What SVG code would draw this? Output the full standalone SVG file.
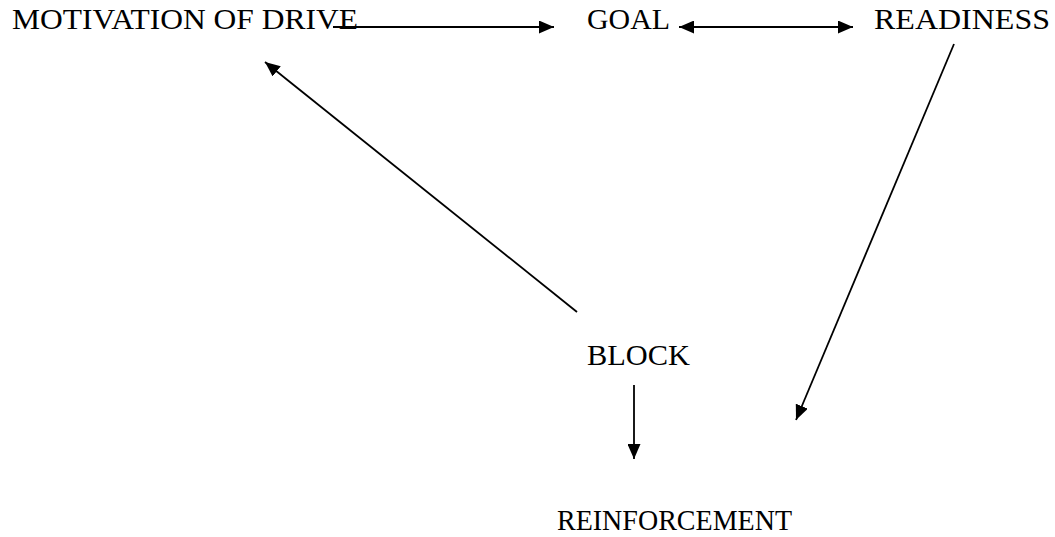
<svg xmlns="http://www.w3.org/2000/svg" width="1055" height="537" viewBox="0 0 1055 537">
<style>
  text { font-family: "Liberation Serif", "DejaVu Serif", serif; font-size: 28.5px; fill: #000; }
  .c { stroke: #000; stroke-width: 1.8; fill: none; }
</style>
<defs>
  <marker id="ah" viewBox="0 0 15 13" refX="15" refY="6.5" markerWidth="15" markerHeight="13" markerUnits="userSpaceOnUse" orient="auto-start-reverse">
    <path d="M0,0 L15,6.5 L0,13 Z" fill="#000"/>
  </marker>
</defs>
<rect width="1055" height="537" fill="#fff"/>
<g id="motivation"><text x="12" y="29" textLength="346" lengthAdjust="spacingAndGlyphs">MOTIVATION OF DRIVE</text></g>
<g id="goal"><text x="587" y="29" textLength="83" lengthAdjust="spacingAndGlyphs">GOAL</text></g>
<g id="readiness"><text x="874" y="29" textLength="176" lengthAdjust="spacingAndGlyphs">READINESS</text></g>
<g id="block"><text x="587" y="365" textLength="103" lengthAdjust="spacingAndGlyphs">BLOCK</text></g>
<g id="reinforcement"><text x="557" y="530" textLength="235" lengthAdjust="spacingAndGlyphs">REINFORCEMENT</text></g>
<g id="connectors">
  <line class="c" x1="333" y1="27" x2="554" y2="27" marker-end="url(#ah)"/>
  <line class="c" x1="679" y1="27" x2="853" y2="27" marker-start="url(#ah)" marker-end="url(#ah)"/>
  <line class="c" x1="954" y1="44" x2="796" y2="420" marker-end="url(#ah)"/>
  <line class="c" x1="577" y1="312" x2="265" y2="62" marker-end="url(#ah)"/>
  <line class="c" x1="634" y1="385" x2="634" y2="459" marker-end="url(#ah)"/>
</g>
</svg>
